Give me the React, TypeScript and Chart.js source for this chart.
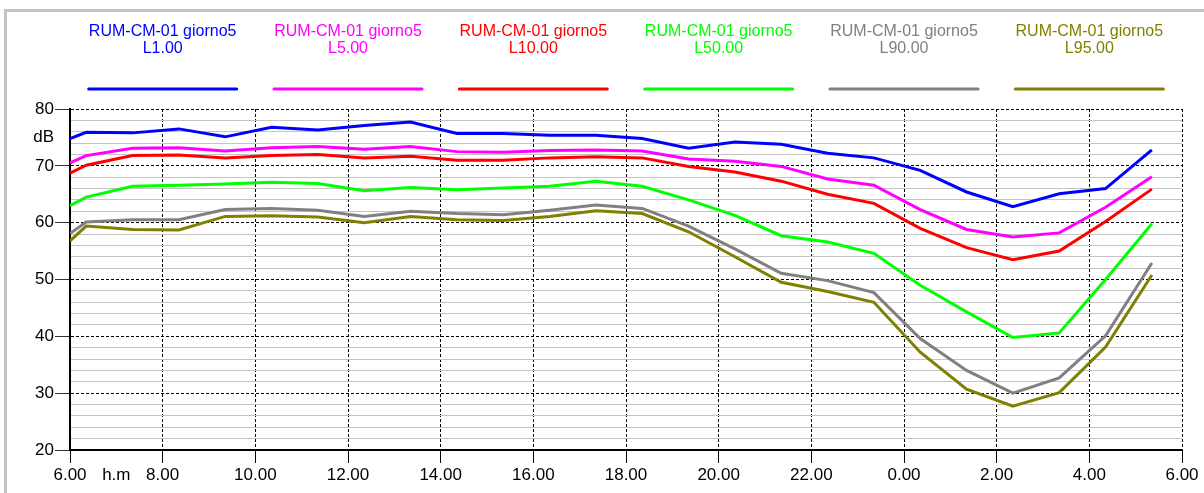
import { useEffect, useRef } from "react";
import { Chart, registerables } from "chart.js";

Chart.register(...registerables);

// Measurement times in hours from 6.00 (values above 24 fall on the next day)
const hours = [
  6.0, 6.35, 7.35, 8.35, 9.35, 10.35, 11.35, 12.35, 13.35, 14.35, 15.35, 16.35, 17.35,
  18.35, 19.35, 20.35, 21.35, 22.35, 23.35, 24.35, 25.35, 26.35, 27.35, 28.35, 29.35,
];

const station = "RUM-CM-01 giorno5";
const seriesLabels = ["L1.00", "L5.00", "L10.00", "L50.00", "L90.00", "L95.00"];
const seriesColors = ["#0000ff", "#ff00ff", "#ff0000", "#00ff00", "#808080", "#808000"];

const l1 = [
  74.8, 75.9, 75.8, 76.5, 75.1, 76.8, 76.3, 77.1, 77.7, 75.7, 75.7, 75.4, 75.4,
  74.8, 73.1, 74.2, 73.8, 72.2, 71.4, 69.2, 65.4, 62.8, 65.1, 66.0, 72.8,
];
const l5 = [
  70.5, 71.8, 73.1, 73.2, 72.6, 73.2, 73.4, 72.9, 73.4, 72.5, 72.4, 72.7, 72.8,
  72.6, 71.2, 70.8, 69.9, 67.7, 66.6, 62.3, 58.8, 57.5, 58.2, 62.7, 68.1,
];
const l10 = [
  68.7, 70.1, 71.8, 71.9, 71.4, 71.8, 72.0, 71.4, 71.7, 71.0, 71.0, 71.4, 71.6,
  71.4, 69.9, 68.9, 67.3, 65.0, 63.4, 59.0, 55.6, 53.5, 55.0, 60.2, 65.9,
];
const l50 = [
  63.0, 64.5, 66.4, 66.6, 66.8, 67.1, 66.9, 65.6, 66.2, 65.8, 66.1, 66.4, 67.3,
  66.4, 64.0, 61.3, 57.7, 56.6, 54.6, 49.0, 44.3, 39.8, 40.6, 50.0, 59.8,
];
const l90 = [
  58.1, 60.1, 60.5, 60.5, 62.3, 62.5, 62.2, 61.1, 62.0, 61.6, 61.4, 62.2, 63.1,
  62.5, 59.4, 55.4, 51.1, 49.8, 47.7, 39.6, 34.0, 30.0, 32.7, 40.1, 52.9,
];
const l95 = [
  56.8, 59.4, 58.8, 58.7, 61.1, 61.2, 61.0, 60.0, 61.1, 60.5, 60.4, 61.1, 62.1,
  61.6, 58.4, 54.0, 49.5, 47.9, 46.0, 37.2, 30.7, 27.7, 30.1, 38.1, 50.8,
];
const seriesValues = [l1, l5, l10, l50, l90, l95];

// Axis ticks: 7 carries the "h.m" unit label, 75 carries the "dB" unit label
const xTickValues = [6, 7, 8, 10, 12, 14, 16, 18, 20, 22, 24, 26, 28, 30];
const yTickValues = [
  20, 22, 24, 26, 28, 30, 32, 34, 36, 38, 40, 42, 44, 46, 48, 50, 52, 54, 56, 58,
  60, 62, 64, 66, 68, 70, 72, 74, 75, 76, 78, 80,
];
const X_UNIT_TICK = 7;
const Y_UNIT_TICK = 75;

const FONT = '"Liberation Sans", Arial, Helvetica, sans-serif';
const CLEAR = "rgba(0,0,0,0)";
const MAJOR_DASH = [3, 2];

// Two-line legend entries with a sample stroke underneath, spread over the plot width
const stackedLegend = {
  id: "stackedLegend",
  afterDraw(chart: any) {
    const { ctx, chartArea } = chart;
    const sets = chart.data.datasets;
    const slot = (chartArea.right - chartArea.left) / sets.length;
    ctx.save();
    ctx.font = `16px ${FONT}`;
    ctx.textAlign = "center";
    ctx.textBaseline = "middle";
    sets.forEach((ds: any, i: number) => {
      const cx = chartArea.left + slot * (i + 0.5);
      ctx.fillStyle = ds.borderColor;
      ctx.fillText(station, cx, 32);
      ctx.fillText(ds.label, cx, 49);
      ctx.strokeStyle = ds.borderColor;
      ctx.lineWidth = 3;
      ctx.lineCap = "round";
      ctx.beginPath();
      ctx.moveTo(cx - 74, 89);
      ctx.lineTo(cx + 74, 89);
      ctx.stroke();
    });
    ctx.restore();
  },
};

export default function App() {
  const canvasRef = useRef<HTMLCanvasElement | null>(null);

  useEffect(() => {
    const canvas = canvasRef.current;
    if (!canvas) return;

    const datasets = seriesLabels.map((label, i) => ({
      label,
      data: hours.map((h, j) => ({ x: h, y: seriesValues[i][j] })),
      borderColor: seriesColors[i],
      backgroundColor: seriesColors[i],
      borderWidth: 3,
      pointRadius: 0,
      tension: 0,
      fill: false,
    }));

    const chart = new Chart(canvas, {
      type: "line",
      data: { datasets },
      plugins: [stackedLegend],
      options: {
        animation: false,
        responsive: false,
        devicePixelRatio: 1,
        layout: { padding: { top: 109, right: 22, bottom: 0, left: 0 } },
        plugins: {
          legend: { display: false },
          tooltip: { enabled: false },
        },
        scales: {
          x: {
            type: "linear",
            min: 6,
            max: 30,
            afterBuildTicks: (scale: any) => {
              scale.ticks = xTickValues.map((v) => ({ value: v }));
            },
            afterFit: (scale: any) => {
              scale.height = 43;
            },
            ticks: {
              autoSkip: false,
              maxRotation: 0,
              minRotation: 0,
              padding: 2,
              color: "#000",
              font: { family: FONT, size: 17 },
              callback: (value: any) =>
                value === X_UNIT_TICK ? "h.m" : `${Number(value) % 24}.00`,
            },
            grid: {
              color: (c: any) => (c.tick && c.tick.value === X_UNIT_TICK ? CLEAR : "#000"),
              lineWidth: 1,
              tickLength: 13,
              tickColor: (c: any) => (c.tick && c.tick.value === X_UNIT_TICK ? CLEAR : "#000"),
            },
            border: {
              color: "#000",
              width: 2,
              dash: (c: any) => (c.tick ? MAJOR_DASH : []),
            },
          },
          y: {
            type: "linear",
            min: 20,
            max: 80,
            afterBuildTicks: (scale: any) => {
              scale.ticks = yTickValues.map((v) => ({ value: v }));
            },
            afterFit: (scale: any) => {
              scale.width = 70;
            },
            ticks: {
              autoSkip: false,
              padding: 1,
              color: "#000",
              font: { family: FONT, size: 17 },
              callback: (value: any) => {
                const v = Number(value);
                if (v === Y_UNIT_TICK) return "dB";
                return v % 10 === 0 ? String(v) : "";
              },
            },
            grid: {
              color: (c: any) => {
                const v = c.tick ? c.tick.value : 0;
                if (v === Y_UNIT_TICK) return CLEAR;
                return v % 10 === 0 ? "#000" : "#c4c4c4";
              },
              lineWidth: 1,
              tickLength: 15,
              tickColor: (c: any) => {
                const v = c.tick ? c.tick.value : 0;
                return v % 10 === 0 ? "#333" : CLEAR;
              },
            },
            border: {
              color: "#000",
              width: 2,
              dash: (c: any) => (c.tick && c.tick.value % 10 === 0 ? MAJOR_DASH : []),
            },
          },
        },
      } as any,
    });

    return () => chart.destroy();
  }, []);

  return (
    <div
      style={{
        position: "fixed",
        left: 0,
        top: 0,
        width: 1204,
        height: 493,
        overflow: "hidden",
        background: "#fff",
      }}
    >
      <div
        style={{
          position: "absolute",
          left: 4,
          top: 9,
          width: 1400,
          height: 700,
          border: "3px solid #c4c4c4",
        }}
      />
      <canvas
        ref={canvasRef}
        width={1204}
        height={493}
        style={{ position: "absolute", left: 0, top: 0, width: 1204, height: 493 }}
      />
    </div>
  );
}
